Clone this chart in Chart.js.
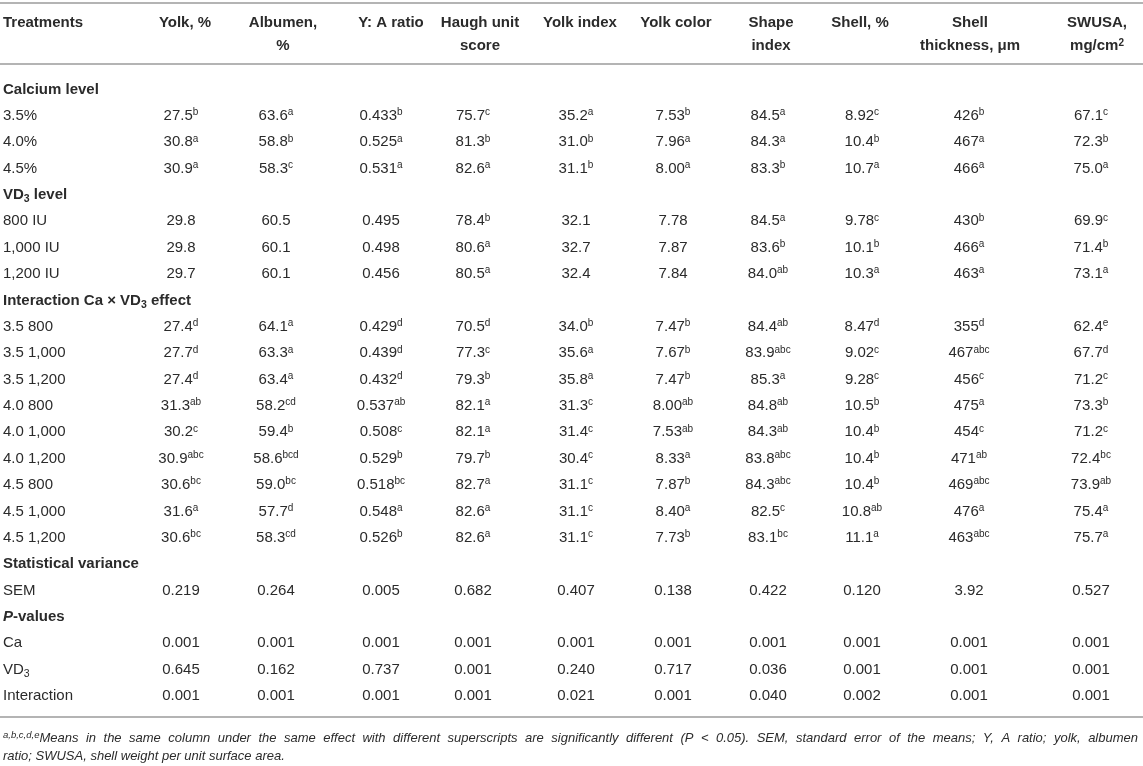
<!DOCTYPE html>
<html>
<head>
<meta charset="utf-8">
<script src="https://cdn.jsdelivr.net/npm/chart.js@4.4.1/dist/chart.umd.min.js"></script>
<style>
  html, body { margin: 0; padding: 0; background: #fff; }
  #wrap { width: 1143px; height: 766px; position: relative; }
</style>
</head>
<body>
<div id="wrap"><canvas id="tabela"></canvas></div>
<script>
// Linhas da tabela (null nas colunas = linha de seção)
const rowLabels = [
    'Calcium level', '3.5%', '4.0%', '4.5%',
    'VD_{3} level', '800 IU', '1,000 IU', '1,200 IU',
    'Interaction Ca × VD_{3} effect', '3.5 800', '3.5 1,000', '3.5 1,200', '4.0 800', '4.0 1,000',
    '4.0 1,200', '4.5 800', '4.5 1,000', '4.5 1,200',
    'Statistical variance', 'SEM',
    '*P*-values', 'Ca', 'VD_{3}', 'Interaction'
];
const sectionRows = ['Calcium level', 'VD_{3} level', 'Interaction Ca × VD_{3} effect', 'Statistical variance', '*P*-values'];

// Cabeçalhos das colunas
const headers = [
    ['Yolk, %'], ['Albumen,', '%'], ['Y: A ratio'], ['Haugh unit', 'score'], ['Yolk index'],
    ['Yolk color'], ['Shape', 'index'], ['Shell, %'], ['Shell', 'thickness, μm'], ['SWUSA,', 'mg/cm^{2}']
];

// Valores (letras no fim = sobrescrito)
const yolkPct = [null, '27.5b', '30.8a', '30.9a', null, '29.8', '29.8', '29.7', null,
    '27.4d', '27.7d', '27.4d', '31.3ab', '30.2c', '30.9abc', '30.6bc', '31.6a', '30.6bc', null, '0.219', null, '0.001', '0.645', '0.001'];
const albumenPct = [null, '63.6a', '58.8b', '58.3c', null, '60.5', '60.1', '60.1', null,
    '64.1a', '63.3a', '63.4a', '58.2cd', '59.4b', '58.6bcd', '59.0bc', '57.7d', '58.3cd', null, '0.264', null, '0.001', '0.162', '0.001'];
const yaRatio = [null, '0.433b', '0.525a', '0.531a', null, '0.495', '0.498', '0.456', null,
    '0.429d', '0.439d', '0.432d', '0.537ab', '0.508c', '0.529b', '0.518bc', '0.548a', '0.526b', null, '0.005', null, '0.001', '0.737', '0.001'];
const haughUnit = [null, '75.7c', '81.3b', '82.6a', null, '78.4b', '80.6a', '80.5a', null,
    '70.5d', '77.3c', '79.3b', '82.1a', '82.1a', '79.7b', '82.7a', '82.6a', '82.6a', null, '0.682', null, '0.001', '0.001', '0.001'];
const yolkIndex = [null, '35.2a', '31.0b', '31.1b', null, '32.1', '32.7', '32.4', null,
    '34.0b', '35.6a', '35.8a', '31.3c', '31.4c', '30.4c', '31.1c', '31.1c', '31.1c', null, '0.407', null, '0.001', '0.240', '0.021'];
const yolkColor = [null, '7.53b', '7.96a', '8.00a', null, '7.78', '7.87', '7.84', null,
    '7.47b', '7.67b', '7.47b', '8.00ab', '7.53ab', '8.33a', '7.87b', '8.40a', '7.73b', null, '0.138', null, '0.001', '0.717', '0.001'];
const shapeIndex = [null, '84.5a', '84.3a', '83.3b', null, '84.5a', '83.6b', '84.0ab', null,
    '84.4ab', '83.9abc', '85.3a', '84.8ab', '84.3ab', '83.8abc', '84.3abc', '82.5c', '83.1bc', null, '0.422', null, '0.001', '0.036', '0.040'];
const shellPct = [null, '8.92c', '10.4b', '10.7a', null, '9.78c', '10.1b', '10.3a', null,
    '8.47d', '9.02c', '9.28c', '10.5b', '10.4b', '10.4b', '10.4b', '10.8ab', '11.1a', null, '0.120', null, '0.001', '0.001', '0.002'];
const shellThickness = [null, '426b', '467a', '466a', null, '430b', '466a', '463a', null,
    '355d', '467abc', '456c', '475a', '454c', '471ab', '469abc', '476a', '463abc', null, '3.92', null, '0.001', '0.001', '0.001'];
const swusa = [null, '67.1c', '72.3b', '75.0a', null, '69.9c', '71.4b', '73.1a', null,
    '62.4e', '67.7d', '71.2c', '73.3b', '71.2c', '72.4bc', '73.9ab', '75.4a', '75.7a', null, '0.527', null, '0.001', '0.001', '0.001'];

const columns = [yolkPct, albumenPct, yaRatio, haughUnit, yolkIndex, yolkColor, shapeIndex, shellPct, shellThickness, swusa];

const footnote = [
    '^{a,b,c,d,e}Means in the same column under the same effect with different superscripts are significantly different (P < 0.05). SEM, standard error of the means; Y, A ratio; yolk, albumen',
    'ratio; SWUSA, shell weight per unit surface area.'
];

// Layout (posição das colunas no eixo x, em px da página)
const colX = [181, 276, 381, 473, 576, 673, 768, 862, 969, 1091];
const headX = [185, 283, 391, 480, 580, 676, 771, 860, 970, 1097];
const MARGEM = 3;
const FONTE = '"Liberation Sans", Arial, Helvetica, sans-serif';
const COR_TEXTO = '#2b2b2b';
const COR_LINHA = '#b4b4b4';

// Quebra o texto em pedaços: _{sub}, ^{sup}, *itálico*
function parseRich(texto) {
    const partes = [];
    texto.split(/(_\{[^}]*\}|\^\{[^}]*\}|\*[^*]+\*)/).forEach(p => {
        if (!p) return;
        if (p.startsWith('_{')) partes.push({ t: p.slice(2, -1), tipo: 'sub' });
        else if (p.startsWith('^{')) partes.push({ t: p.slice(2, -1), tipo: 'sup' });
        else if (p.startsWith('*')) partes.push({ t: p.slice(1, -1), tipo: 'it' });
        else partes.push({ t: p, tipo: 'n' });
    });
    return partes;
}

function fontePara(parte, base) {
    const peso = base.bold ? 'bold ' : '';
    const it = (base.italic || parte.tipo === 'it') ? 'italic ' : '';
    const tam = (parte.tipo === 'sup' || parte.tipo === 'sub') ? base.small : base.size;
    return `${it}${peso}${tam}px ${FONTE}`;
}

// Desenha texto rico; y = centro da linha; se "ate" vier, justifica até essa borda
function drawRich(ctx, partes, x, y, align, base, ate) {
    ctx.textBaseline = 'alphabetic';
    ctx.textAlign = 'left';
    let largura = 0;
    let espacos = 0;
    partes.forEach(p => {
        ctx.font = fontePara(p, base);
        largura += ctx.measureText(p.t).width;
        if (p.tipo === 'n') espacos += (p.t.match(/ /g) || []).length;
    });
    const extra = (ate && espacos) ? (ate - x - largura) / espacos : 0;
    let cx = align === 'center' ? x - largura / 2 : x;
    const linhaBase = y + base.size * 0.36;
    partes.forEach(p => {
        ctx.font = fontePara(p, base);
        let dy = 0;
        if (p.tipo === 'sup') dy = -base.size * 0.32;
        if (p.tipo === 'sub') dy = base.size * 0.22;
        if (extra) {
            p.t.split(/( )/).forEach(w => {
                if (!w) return;
                ctx.fillText(w, cx, linhaBase + dy);
                cx += ctx.measureText(w).width + (w === ' ' ? extra : 0);
            });
        } else {
            ctx.fillText(p.t, cx, linhaBase + dy);
            cx += ctx.measureText(p.t).width;
        }
    });
}

function parseValor(v) {
    const m = v.match(/^([\d.,]+)([a-e]*)$/);
    const partes = [{ t: m[1], tipo: 'n' }];
    if (m[2]) partes.push({ t: m[2], tipo: 'sup' });
    return partes;
}

const tabelaPlugin = {
    id: 'tabela',
    afterDatasetsDraw(chart) {
        const ctx = chart.ctx;
        const area = chart.chartArea;
        const xs = chart.scales.x;
        const ys = chart.scales.y;
        const esq = xs.getPixelForValue(MARGEM);
        ctx.save();
        ctx.fillStyle = COR_TEXTO;

        // linhas horizontais
        ctx.strokeStyle = COR_LINHA;
        ctx.lineWidth = 2;
        [area.top - 72, area.top - 11, area.bottom + 9].forEach(yy => {
            ctx.beginPath();
            ctx.moveTo(xs.getPixelForValue(0), yy);
            ctx.lineTo(xs.getPixelForValue(1143), yy);
            ctx.stroke();
        });

        // cabeçalho
        const cab = { size: 15, small: 10, bold: true };
        drawRich(ctx, parseRich('Treatments'), esq, area.top - 53, 'left', cab);
        headers.forEach((linhas, c) => {
            linhas.forEach((l, k) => {
                drawRich(ctx, parseRich(l), xs.getPixelForValue(headX[c]), area.top - 53 + k * 23, 'center', cab);
            });
        });

        // rótulos das linhas
        rowLabels.forEach((lab, r) => {
            const secao = sectionRows.includes(lab);
            drawRich(ctx, parseRich(lab), esq, ys.getPixelForValue(r), 'left',
                { size: 15, small: 10.5, bold: secao });
        });

        // valores das células, nas posições dos pontos calculadas pelo Chart.js
        chart.data.datasets.forEach((ds, i) => {
            const meta = chart.getDatasetMeta(i);
            meta.data.forEach((el, j) => {
                drawRich(ctx, parseValor(ds.data[j].v), el.x, el.y, 'center', { size: 15, small: 10 });
            });
        });

        // nota de rodapé (1ª linha justificada)
        footnote.forEach((l, k) => {
            drawRich(ctx, parseRich(l), esq, area.bottom + 29 + k * 18, 'left',
                { size: 13, small: 9.5, italic: true }, k === 0 ? xs.getPixelForValue(1138) : null);
        });
        ctx.restore();
    }
};

document.addEventListener('DOMContentLoaded', () => {
    const datasets = columns.map((col, c) => ({
        label: headers[c].join(' '),
        data: col.map((v, r) => v === null ? null : { x: colX[c], y: rowLabels[r], v }).filter(p => p),
        pointRadius: 0,
        showLine: false
    }));

    new Chart(document.getElementById('tabela'), {
        type: 'scatter',
        data: { labels: rowLabels, datasets },
        options: {
            responsive: true,
            maintainAspectRatio: false,
            animation: false,
            events: [],
            layout: { padding: { top: 75, bottom: 58, left: 0, right: 0 } },
            plugins: { legend: { display: false }, tooltip: { enabled: false } },
            scales: {
                x: { type: 'linear', min: 0, max: 1143, display: false },
                y: { type: 'category', labels: rowLabels, offset: true, display: false }
            }
        },
        plugins: [tabelaPlugin]
    });
});
</script>
</body>
</html>
